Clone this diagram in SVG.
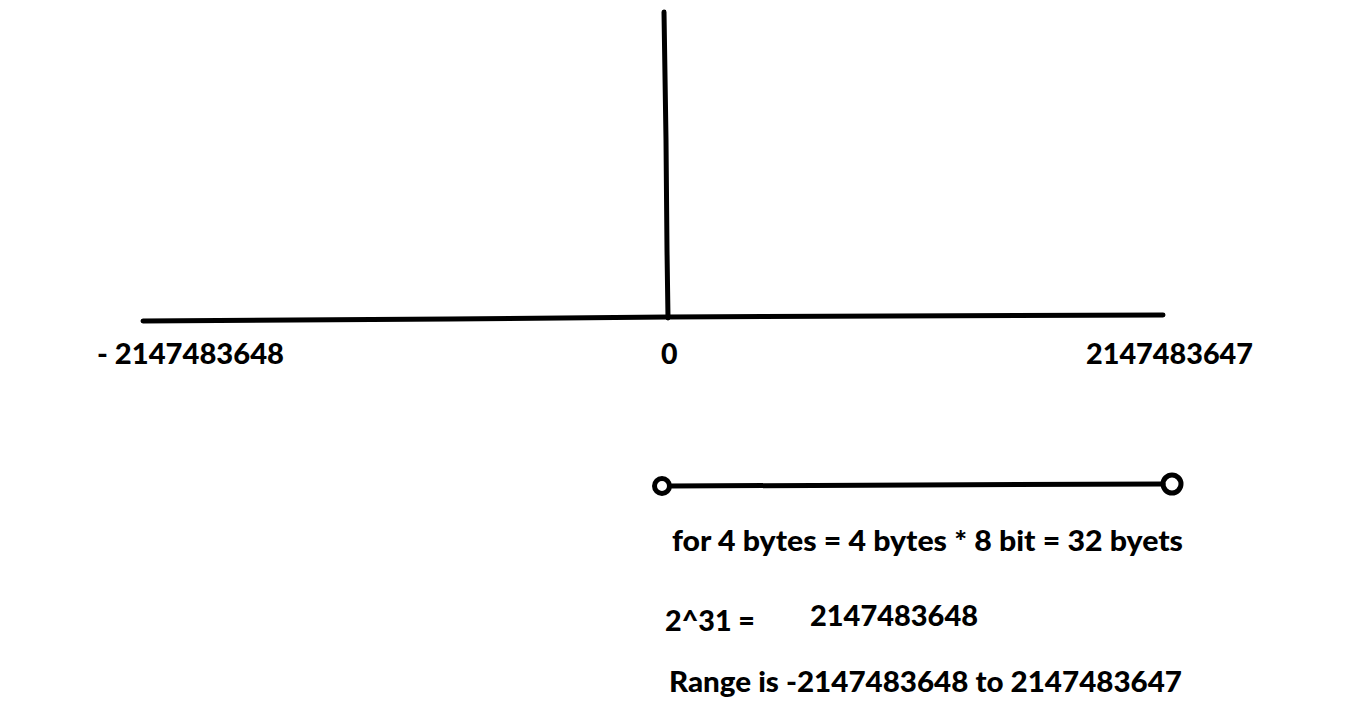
<svg xmlns="http://www.w3.org/2000/svg" width="1356" height="725" viewBox="0 0 1356 725">
<style>
.t{font-family:Lato,"Open Sans","Liberation Sans",sans-serif;font-weight:900;font-size:28.5px;fill:#000}
.ln{stroke:#000;stroke-width:5;stroke-linecap:round;fill:none}
</style>
<rect width="1356" height="725" fill="#fff"/>
<g id="axes" class="ln">
<polyline points="143,321 450,319 668,317 1163,315"/>
<polyline points="664,12 666,140 667,250 668,318"/>
</g>
<g id="labels">
<text class="t" x="97" y="364" textLength="187" lengthAdjust="spacingAndGlyphs">- 2147483648</text>
<text class="t" x="661" y="364">0</text>
<text class="t" x="1086" y="364" textLength="167" lengthAdjust="spacingAndGlyphs">2147483647</text>
</g>
<g id="segment" class="ln">
<line x1="670" y1="486" x2="1163" y2="484"/>
<circle cx="662" cy="486" r="7.5"/>
<circle cx="1172" cy="484" r="9"/>
</g>
<g id="notes">
<text class="t" x="672" y="551" textLength="511" lengthAdjust="spacingAndGlyphs">for 4 bytes = 4 bytes * 8 bit = 32 byets</text>
<text class="t" x="665" y="631" textLength="90" lengthAdjust="spacingAndGlyphs">2^31 =</text>
<text class="t" x="810" y="626" textLength="168" lengthAdjust="spacingAndGlyphs">2147483648</text>
<text class="t" x="669" y="692" textLength="513" lengthAdjust="spacingAndGlyphs">Range is -2147483648 to 2147483647</text>
</g>
</svg>
